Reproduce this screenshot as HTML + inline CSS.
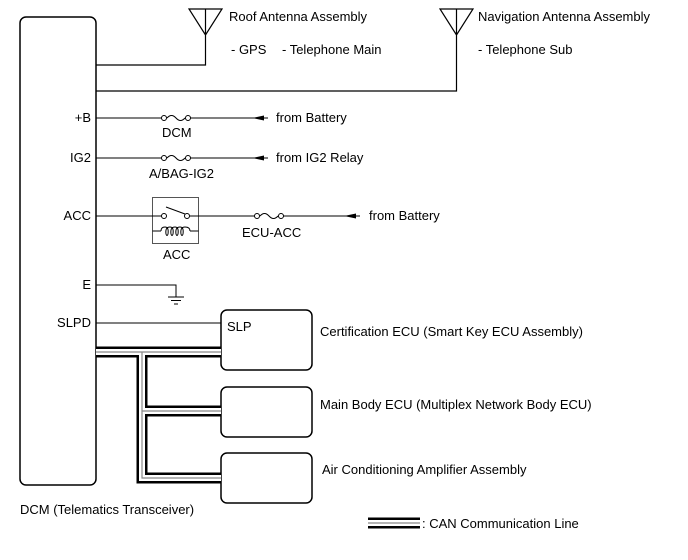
<!DOCTYPE html>
<html><head><style>
body{margin:0;background:#fff}
svg{display:block}
text{font-family:"Liberation Sans",sans-serif;font-size:13px;fill:#000}
</style></head><body>
<svg width="688" height="560" viewBox="0 0 688 560">
<g fill="none" stroke="#000" stroke-width="1">
<rect x="20" y="17" width="76" height="468" rx="6" stroke-width="1.5"/>
<path d="M189 9 H222 L205.5 35 Z M205.5 9 V65 H96" stroke-width="1.2"/>
<path d="M440 9 H473 L456.5 35 Z M456.5 9 V91 H96" stroke-width="1.2"/>
<path d="M96 118 H162 M190 118 H268"/>
<circle cx="164" cy="118" r="2.5" fill="#fff"/><circle cx="188" cy="118" r="2.5" fill="#fff"/>
<path d="M167 118 Q171.5 113 176 118 Q180.5 123 185 118"/>
<path d="M96 158 H162 M190 158 H268"/>
<circle cx="164" cy="158" r="2.5" fill="#fff"/><circle cx="188" cy="158" r="2.5" fill="#fff"/>
<path d="M167 158 Q171.5 153 176 158 Q180.5 163 185 158"/>
<rect x="152.5" y="197.5" width="46" height="46" stroke="#555"/>
<path d="M96 216 H162 M190 216 H255 M283 216 H360"/>
<circle cx="164" cy="216" r="2.5" fill="#fff"/><circle cx="187" cy="216" r="2.5" fill="#fff"/>
<path d="M166 207 L185 214"/>
<path d="M152.5 231 H161 M190 231 H198.5"/>
<path d="M161 231 Q161 227 165 227 Q169 227 168 234 Q167 237 166 234 Q165 227 170 227 Q174 227 173 234 Q172 237 171 234 Q170 227 175 227 Q179 227 178 234 Q177 237 176 234 Q175 227 180 227 Q184 227 183 234 Q182 237 181 234 Q180 227 185 227 Q190 227 190 231"/>
<circle cx="257" cy="216" r="2.5" fill="#fff"/><circle cx="281" cy="216" r="2.5" fill="#fff"/>
<path d="M260 216 Q264.5 211 269 216 Q273.5 221 278 216"/>
<path d="M96 285 H176 V297 M168 297 H184 M171 300.5 H181 M174 304 H178"/>
<path d="M96 323 H221"/>
<rect x="221" y="310" width="91" height="60" rx="6" stroke-width="1.5"/>
<rect x="221" y="387" width="91" height="50" rx="6" stroke-width="1.5"/>
<rect x="221" y="453" width="91" height="50" rx="6" stroke-width="1.5"/>
<g stroke="#000" stroke-width="11">
<path d="M96 352 H221 M142 352 V478 H221 M142 411 H221"/>
<path d="M368 523 H420"/>
</g>
<g stroke="#fff" stroke-width="6">
<path d="M96 352 H221 M142 352 V478 H221 M142 411 H221"/>
<path d="M368 523 H420"/>
</g>
<g stroke="#888" stroke-width="1.2">
<path d="M96 352 H221 M142 352 V478 H221 M142 411 H221"/>
<path d="M368 523 H420"/>
</g>
</g>
<g fill="#000">
<path d="M252 118 L264 115.5 V120.5 Z M252 158 L264 155.5 V160.5 Z M344 216 L356 213.5 V218.5 Z"/>
</g>
<text x="229" y="21">Roof Antenna Assembly</text>
<text x="231" y="54">- GPS</text>
<text x="282" y="54">- Telephone Main</text>
<text x="478" y="21">Navigation Antenna Assembly</text>
<text x="478" y="54">- Telephone Sub</text>
<text x="91" y="122" text-anchor="end">+B</text>
<text x="91" y="162" text-anchor="end">IG2</text>
<text x="91" y="220" text-anchor="end">ACC</text>
<text x="91" y="289" text-anchor="end">E</text>
<text x="91" y="327" text-anchor="end">SLPD</text>
<text x="162" y="137">DCM</text>
<text x="149" y="178">A/BAG-IG2</text>
<text x="163" y="259">ACC</text>
<text x="242" y="237">ECU-ACC</text>
<text x="276" y="122">from Battery</text>
<text x="276" y="162">from IG2 Relay</text>
<text x="369" y="220">from Battery</text>
<text x="227" y="331">SLP</text>
<text x="320" y="336">Certification ECU (Smart Key ECU Assembly)</text>
<text x="320" y="409">Main Body ECU (Multiplex Network Body ECU)</text>
<text x="322" y="474">Air Conditioning Amplifier Assembly</text>
<text x="20" y="514">DCM (Telematics Transceiver)</text>
<text x="422" y="528">: CAN Communication Line</text>
</svg>
</body></html>
